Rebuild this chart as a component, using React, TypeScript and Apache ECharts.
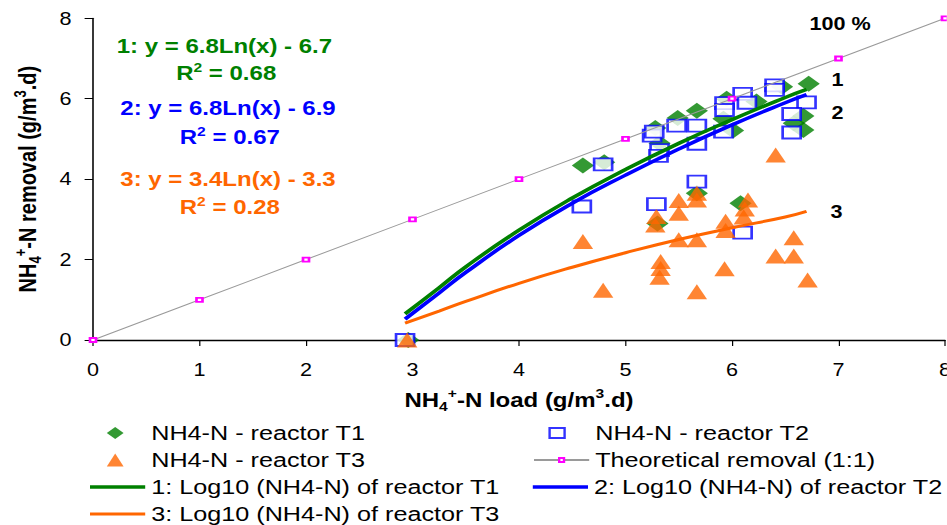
import React, { useEffect, useRef } from "react";
import * as echarts from "echarts";

// ---- data ----
const t1Points: number[][] = [
  [2.96, 0], [4.6, 4.34], [4.8, 4.42], [5.28, 5.27], [5.32, 4.89], [5.3, 2.9],
  [5.49, 5.52], [5.67, 5.7], [5.67, 3.65], [5.92, 5.5], [5.95, 6.0], [6.01, 5.21],
  [6.08, 3.4], [6.23, 5.93], [6.47, 6.3], [6.72, 6.37], [6.67, 5.57], [6.58, 5.39], [6.67, 5.22],
];
const t2Points: number[][] = [
  [2.93, 0], [4.59, 3.32], [4.79, 4.37], [5.25, 5.08], [5.27, 5.18], [5.32, 4.72],
  [5.31, 4.58], [5.48, 5.33], [5.29, 3.38], [5.67, 5.33], [5.67, 4.88], [5.67, 3.94],
  [5.93, 5.89], [5.93, 5.72], [5.92, 5.18], [6.1, 6.12], [6.14, 5.9], [6.1, 2.67],
  [6.4, 6.33], [6.4, 6.22], [6.7, 5.91], [6.56, 5.62], [6.56, 5.16],
];
const t3Points: number[][] = [
  [2.95, 0], [4.6, 2.45], [4.79, 1.24], [5.29, 3.07], [5.28, 2.86], [5.33, 1.95],
  [5.33, 1.78], [5.32, 1.56], [5.5, 3.47], [5.5, 3.15], [5.5, 2.49], [5.67, 3.65],
  [5.67, 3.48], [5.67, 2.49], [5.67, 1.2], [5.94, 2.95], [5.94, 2.72], [5.93, 1.77],
  [6.15, 3.48], [6.12, 3.26], [6.11, 3.06], [6.41, 4.6], [6.41, 2.09], [6.58, 2.54],
  [6.58, 2.09], [6.71, 1.49],
];
const theoreticalX = [0, 1, 2, 3, 4, 5, 6, 7, 8];
const theoreticalY = [0, 1, 2, 3, 4, 5, 6, 7, 8];
const trendX = [2.93, 3.25, 3.5, 4, 4.5, 5, 5.5, 6, 6.5, 6.7];
const trend1Y = [0.65, 1.3, 1.82, 2.73, 3.53, 4.24, 4.89, 5.48, 6.03, 6.23];
const trend2Y = [0.52, 1.17, 1.68, 2.6, 3.4, 4.1, 4.75, 5.35, 5.9, 6.1];
const trend3Y = [0.42, 0.72, 0.96, 1.41, 1.81, 2.17, 2.5, 2.79, 3.06, 3.2];

const seriesNames = {
  t1: "NH4-N - reactor T1",
  t2: "NH4-N - reactor T2",
  t3: "NH4-N - reactor T3",
  th: "Theoretical removal (1:1)",
  l1: "1: Log10 (NH4-N) of reactor T1",
  l2: "2: Log10 (NH4-N) of reactor T2",
  l3: "3: Log10 (NH4-N) of reactor T3",
};
const equations = [
  { eq: "1: y = 6.8Ln(x) - 6.7", r2: "0.68", color: "#008000" },
  { eq: "2: y = 6.8Ln(x) - 6.9", r2: "0.67", color: "#0000ff" },
  { eq: "3: y = 3.4Ln(x) - 3.3", r2: "0.28", color: "#ff6600" },
];

const F = "'Liberation Sans', Arial, sans-serif";
const SX = 1.2;
const W = Math.round(947 / SX);
const H = 525;

const GREEN = "#008000";
const BLUE = "#0000ff";
const ORANGE = "#ff6600";

function pairs(xs: number[], ys: number[]) {
  return xs.map((x, i) => [x, ys[i]]);
}

export default function App() {
  const ref = useRef<HTMLDivElement>(null);
  useEffect(() => {
    if (!ref.current) return;
    const chart = echarts.init(ref.current, null, { renderer: "svg" });
    const nameRich = {
      b: { fontSize: 20, fontWeight: "bold", fontFamily: F, color: "#000", lineHeight: 26 },
      sub: { fontSize: 13, fontWeight: "bold", fontFamily: F, color: "#000", verticalAlign: "bottom", lineHeight: 14 },
      sup: { fontSize: 13, fontWeight: "bold", fontFamily: F, color: "#000", verticalAlign: "top", lineHeight: 14 },
    };
    const legendBase = (
      name: string,
      left: number,
      rowCenter: number,
      itemWidth: number,
      itemHeight: number,
      padLeft: number,
      icon?: string
    ) => ({
      data: [icon ? { name, icon } : name],
      orient: "vertical",
      left,
      top: rowCenter - 10.5,
      padding: 0,
      itemWidth,
      itemHeight,
      itemGap: 0,
      selectedMode: false,
      textStyle: { fontSize: 21, fontFamily: F, color: "#000", padding: [0, 0, 0, padLeft] },
    });
    const graphics: any[] = [];
    const eqPos = [
      { x: 187, y: 46, ry: 73 },
      { x: 190, y: 108, ry: 137 },
      { x: 190, y: 179, ry: 207 },
    ];
    equations.forEach((e, i) => {
      const p = eqPos[i];
      graphics.push({
        type: "text",
        x: p.x,
        y: p.y,
        style: {
          text: e.eq,
          fill: e.color,
          font: `bold 20px ${F}`,
          align: "center",
          verticalAlign: "middle",
        },
      });
      graphics.push({
        type: "text",
        x: p.x + 1.5,
        y: p.ry,
        style: {
          text: `{r|R}{s|2}{r| = ${e.r2}}`,
          fill: e.color,
          align: "center",
          verticalAlign: "middle",
          rich: {
            r: { fontSize: 20, fontWeight: "bold", fontFamily: F, fill: e.color, lineHeight: 24 },
            s: { fontSize: 13, fontWeight: "bold", fontFamily: F, fill: e.color, verticalAlign: "top", lineHeight: 14 },
          },
        },
      });
    });
    const labels = [
      { t: "100 %", x: 700, y: 24 },
      { t: "1", x: 698, y: 80 },
      { t: "2", x: 698, y: 113 },
      { t: "3", x: 697, y: 212 },
    ];
    labels.forEach((l) => {
      graphics.push({
        type: "text",
        x: l.x,
        y: l.y,
        style: { text: l.t, fill: "#000", font: `bold 18px ${F}`, align: "center", verticalAlign: "middle" },
      });
    });

    chart.setOption({
      animation: false,
      backgroundColor: "#fff",
      grid: {
        left: 77.5,
        width: 710,
        top: 18.3,
        height: 321.7,
        containLabel: false,
        outerBoundsMode: "none",
      },
      xAxis: {
        type: "value",
        min: 0,
        max: 8,
        interval: 1,
        name: "{b|NH}{sub|4}{sup|+}{b|-N load (g/m}{sup|3}{b|.d)}",
        nameLocation: "middle",
        nameGap: 47,
        nameTextStyle: { rich: nameRich },
        axisLine: { show: true, onZero: false, lineStyle: { color: "#000", width: 1.3 } },
        axisTick: { show: true, inside: false, length: 6, lineStyle: { color: "#000" } },
        axisLabel: { fontSize: 18, fontFamily: F, color: "#000", margin: 21, showMaxLabel: true, showMinLabel: true },
        splitLine: { show: false },
      },
      yAxis: {
        type: "value",
        min: 0,
        max: 8,
        interval: 2,
        name: "{b|NH}{sub|4}{sup|+}{b|-N removal (g/m}{sup|3}{b|.d)}",
        nameLocation: "middle",
        nameGap: 41,
        nameTextStyle: { rich: nameRich },
        axisLine: { show: true, onZero: false, lineStyle: { color: "#000", width: 1.3 } },
        axisTick: { show: true, inside: false, length: 7, lineStyle: { color: "#000" } },
        axisLabel: { fontSize: 18, fontFamily: F, color: "#000", margin: 18 },
        splitLine: { show: false },
      },
      legend: [
        legendBase(seriesNames.t1, 89, 433, 14, 12, 18),
        legendBase(seriesNames.t3, 89, 460, 14, 13, 18),
        legendBase(seriesNames.l1, 75, 487, 46, 3.5, 0, "rect"),
        legendBase(seriesNames.l3, 75, 514, 46, 3, 0, "rect"),
        legendBase(seriesNames.t2, 457, 433, 12.5, 10, 20.5),
        legendBase(seriesNames.th, 444, 460, 46, 5, 0),
        legendBase(seriesNames.l2, 444, 487, 46, 3.5, 0, "rect"),
      ],
      graphic: graphics,
      series: [
        {
          name: seriesNames.th,
          type: "line",
          data: pairs(theoreticalX, theoreticalY),
          symbol: "emptyRect",
          symbolSize: [5, 4],
          lineStyle: { color: "#9a9a9a", width: 1 },
          itemStyle: { color: "#ff00ff", borderWidth: 1 },
        },
        {
          name: seriesNames.t1,
          type: "scatter",
          data: t1Points,
          symbol: "diamond",
          symbolSize: [18.5, 16],
          itemStyle: { color: GREEN },
        },
        {
          name: seriesNames.t2,
          type: "scatter",
          data: t2Points,
          symbol: "emptyRect",
          symbolSize: [15, 12],
          itemStyle: { color: BLUE, borderWidth: 1.5 },
        },
        {
          name: seriesNames.t3,
          type: "scatter",
          data: t3Points,
          symbol: "triangle",
          symbolSize: [17, 15],
          itemStyle: { color: ORANGE },
        },
        {
          name: seriesNames.l1,
          type: "line",
          data: pairs(trendX, trend1Y),
          symbol: "none",
          showSymbol: false,
          smooth: true,
          lineStyle: { color: GREEN, width: 3.5 },
          itemStyle: { color: GREEN },
        },
        {
          name: seriesNames.l2,
          type: "line",
          data: pairs(trendX, trend2Y),
          symbol: "none",
          showSymbol: false,
          smooth: true,
          lineStyle: { color: BLUE, width: 3.5 },
          itemStyle: { color: BLUE },
        },
        {
          name: seriesNames.l3,
          type: "line",
          data: pairs(trendX, trend3Y),
          symbol: "none",
          showSymbol: false,
          smooth: true,
          lineStyle: { color: ORANGE, width: 3 },
          itemStyle: { color: ORANGE },
        },
      ],
    });
    return () => chart.dispose();
  }, []);
  return (
    <div
      ref={ref}
      style={{
        position: "fixed",
        left: 0,
        top: 0,
        width: W,
        height: H,
        transform: `scaleX(${SX})`,
        transformOrigin: "0 0",
        background: "#fff",
      }}
    />
  );
}
